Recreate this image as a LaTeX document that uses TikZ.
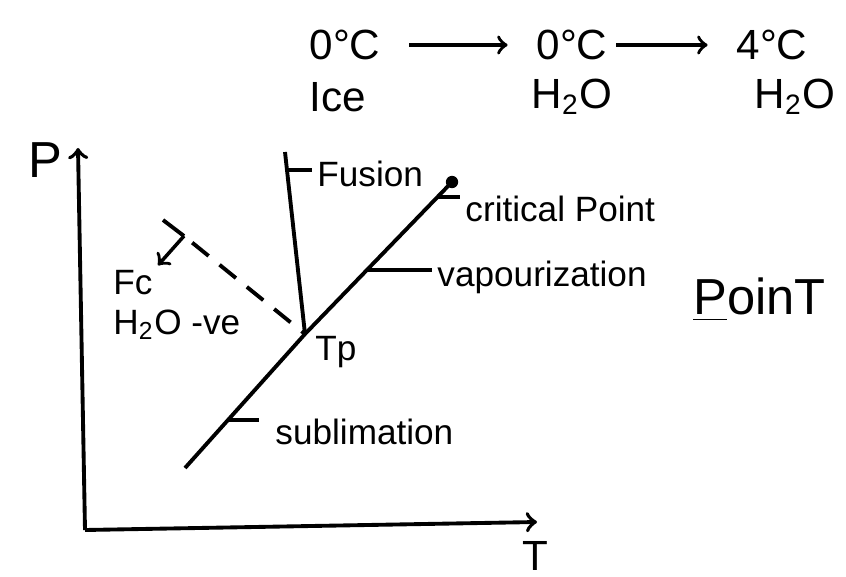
\documentclass[tikz,border=0pt]{standalone}
\usepackage{fontspec}
\setmainfont{Liberation Sans}

\begin{document}
\begin{tikzpicture}[x=0.01cm, y=-0.01cm, line width=1.1pt,
          every node/.style={font=\normalsize, inner sep=1pt},
          tag/.style={anchor=west, inner sep=1pt},
          stage/.style={font=\large, inner sep=2pt}]
      \useasboundingbox (0,0) rectangle (846,576);
      % ice to water, top row
      \node[stage] (IceT) at (345,45) {0°C};
      \node[stage] (WatT) at (572,45) {0°C};
      \node[stage] (WarmT) at (772,45) {4°C};
      \node[stage] (IceL) at (338,97) {Ice};
      \node[stage] (WatL) at (572,97) {H\textsubscript{2}O};
      \node[stage] (WarmL) at (795,97) {H\textsubscript{2}O};
      \draw[->, line width=1pt, shorten <=0.2cm, shorten >=0.2cm] (IceT) -- (WatT);
      \draw[->, line width=1pt, shorten >=0.2cm] (WatT) -- (WarmT);
      % axes
      \coordinate (O) at (85,530);
      \coordinate (Ptop) at (78,148);
      \coordinate (Tend) at (537,522);
      \draw[->] (O) -- (Ptop);
      \draw[->] (O) -- (Tend);
      \node[font=\Large] (Plab) at (45,160) {P};
      \node[font=\large] (Tlab) at (535,556) {T};
      % phase lines
      \coordinate (Tp) at (305,334);
      \coordinate (SL) at (185,468);
      \coordinate (FT) at (285,152);
      \node[circle, fill, inner sep=0pt, minimum size=3.5pt] (CP) at (452,182) {};
      \draw (SL) -- coordinate[pos=0.36] (SubT) (Tp)
            -- coordinate[pos=0.42] (VapT) coordinate[pos=0.9] (CritT) (CP.center);
      \draw (Tp) -- coordinate[pos=0.9] (FusT) (FT);
      \node[tag] (Fus) at (312,174) {Fusion};
      \node[tag] (Crit) at (460,209) {critical Point};
      \node[tag] (Vap) at (432,277) {vapourization};
      \node[tag] (Sub) at (270,432) {sublimation};
      \node[tag] (TpL) at (310,352) {Tp};
      \draw (FusT) -- (FusT -| Fus.west);
      \draw (CritT) -- (CritT -| Crit.west);
      \draw (VapT) -- (VapT -| Vap.west);
      \draw (SubT) -- ([xshift=-3pt]SubT -| Sub.west);
      % water: negative slope
      \node[tag] (Fc) at (108,283) {Fc};
      \node[tag] (Neg) at (108,325) {H\textsubscript{2}O -ve};
      \coordinate (FcV) at (184,236);
      \coordinate (FcA) at (163,220);
      \draw[dashed, dash pattern=on 6pt off 4pt, shorten <=3pt] (FcV) -- (Tp);
      \draw (FcA) -- (FcV);
      \draw[->, line width=1pt] (FcV) -- (Fc.north east);
      \node[tag, font=\Large] (Pt) at (688,300) {\underline{P}oinT};
    \end{tikzpicture}
\end{document}
